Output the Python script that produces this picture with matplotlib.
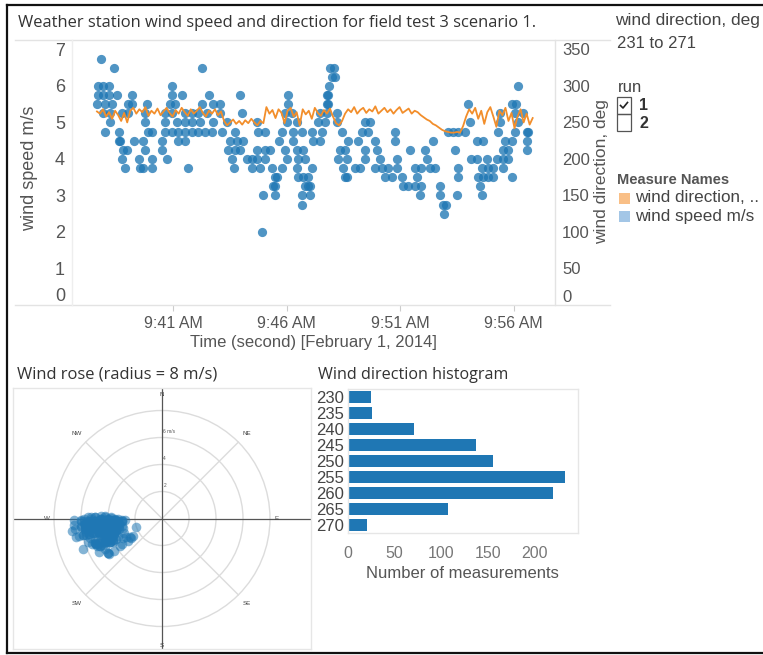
import numpy as np
import matplotlib
matplotlib.use("Agg")
import matplotlib.pyplot as plt
from matplotlib.lines import Line2D
from matplotlib.patches import Rectangle, Circle

plt.rcParams['font.family'] = ['Liberation Sans', 'DejaVu Sans']

# ---------------- data ----------------
T0 = np.datetime64('2014-02-01T09:37:00')

# wind speed readings (m/s, 0.25 steps) and the seconds after 09:37:00 at which they occur
speed_levels = [6.75, 6.5, 6.25, 6.0, 5.75, 5.5, 5.25, 5.0, 4.75, 4.5,
                4.25, 4.0, 3.75, 3.5, 3.25, 3.0, 2.75, 2.5, 2.0]
speed_times = [
    [49],
    [83, 315, 655, 666],
    [660, 668],
    [42, 55, 69, 236, 652, 1150],
    [42, 55, 69, 91, 130, 236, 264, 333, 416, 544, 645, 648],
    [38, 60, 77, 121, 130, 170, 231, 243, 315, 346, 363, 544, 645, 650, 1019, 1134, 1147],
    [55, 73, 104, 121, 165, 218, 236, 271, 289, 306, 330, 363, 421, 535, 553, 628, 645,
     672, 1103, 1143, 1165],
    [73, 165, 218, 249, 271, 289, 311, 346, 381, 460, 540, 566, 623, 641, 672, 747, 760,
     1024, 1103, 1152],
    [60, 95, 174, 183, 218, 236, 253, 271, 289, 306, 324, 341, 368, 403, 465, 482, 526,
     557, 579, 606, 632, 685, 738, 755, 826, 967, 979, 993, 1011, 1099, 1143, 1174, 1178],
    [95, 99, 135, 161, 211, 253, 271, 390, 407, 425, 518, 557, 610, 628, 703, 729, 773,
     826, 927, 1042, 1059, 1117, 1134, 1174],
    [108, 117, 165, 209, 385, 403, 416, 460, 482, 496, 535, 566, 584, 681, 694, 747, 778,
     866, 905, 984, 1112, 1126, 1174],
    [104, 148, 183, 223, 394, 434, 447, 460, 482, 540, 570, 588, 676, 698, 747, 786, 830,
     910, 1028, 1042, 1068, 1095, 1112, 1126],
    [113, 152, 161, 183, 278, 399, 447, 469, 500, 526, 566, 606, 689, 720, 733, 773, 791,
     808, 830, 879, 896, 918, 932, 993, 1055, 1073, 1086, 1112],
    [509, 514, 570, 584, 597, 694, 699, 800, 817, 844, 883, 993, 1046, 1059, 1073, 1086, 1134],
    [504, 509, 588, 596, 601, 848, 861, 879, 896, 945, 1051],
    [477, 509, 580, 601, 892, 945, 989, 1055],
    [580, 954, 962],
    [956],
    [474],
]

# wind direction (deg), sampled every 8 s starting 09:37:38
dir_start_sec = 38
dir_step_sec = 8
dir_deg = [
    265, 262, 268, 258, 264, 255, 266, 260, 252, 263, 250,
    266, 270, 262, 268, 264, 271, 259, 266, 262, 269, 260, 265, 270, 263, 258, 267,
    262, 270, 264, 259, 268, 262, 266, 271, 263, 258, 266, 262, 268, 260, 265,
    252, 246, 250, 254, 248, 252, 247, 253, 249, 255, 250, 246, 252, 249,
    271, 262, 267, 256, 268, 263, 249, 266, 270, 258, 264, 246, 268, 261, 266, 255,
    270, 263, 259, 267, 262, 269, 258,
    249, 246, 252, 262,
    268, 264, 271, 262, 267, 270, 263, 268, 265, 272, 262, 266, 270, 264, 268, 262,
    267, 271, 263, 266, 269, 262, 266,
    264, 260, 257, 254, 252, 248, 246, 243, 240, 238, 237,
    236, 236, 237, 236, 245, 258, 268,
    262, 270, 255, 266, 248, 264, 271, 258, 244, 266, 260, 270, 252, 263, 242, 258,
    268, 250, 262, 247, 256,
]

hist_bins = ['230', '235', '240', '245', '250', '255', '260', '265', '270']
hist_counts = [25, 26, 71, 137, 155, 233, 220, 107, 20]

time_ticks = ['09:41', '09:46', '09:51', '09:56']
time_tick_labels = ['9:41 AM', '9:46 AM', '9:51 AM', '9:56 AM']
speed_ticks = [0, 1, 2, 3, 4, 5, 6, 7]
dir_ticks = [0, 50, 100, 150, 200, 250, 300, 350]
hist_ticks = [0, 50, 100, 150, 200]
rose_rings = [2, 4, 6, 8]
compass = [('N', 0), ('NE', 45), ('E', 90), ('SE', 135),
           ('S', 180), ('SW', 225), ('W', 270), ('NW', 315)]
dir_filter_text = '231 to 271'

# ---------------- derived series ----------------
speed_sec = np.concatenate([np.asarray(t, float) for t in speed_times])
speed_ms = np.concatenate([[lv] * len(t) for lv, t in zip(speed_levels, speed_times)])
dir_sec = dir_start_sec + dir_step_sec * np.arange(len(dir_deg))
speed_dt = T0 + speed_sec.astype('timedelta64[s]')
dir_dt = T0 + dir_sec.astype('timedelta64[s]')
# direction at each speed reading (nearest direction sample)
near = np.abs(speed_sec[:, None] - dir_sec[None, :]).argmin(axis=1)
rose_dir = np.radians(np.asarray(dir_deg, float)[near])

# ---------------- figure ----------------
W, H = 763, 655
fig = plt.figure(figsize=(W / 100, H / 100), dpi=100)
fig.patch.set_facecolor('white')

BLUE = '#1f77b4'
ORANGE = '#f28e2b'
GRID = '#e3e3e3'
TXT = '#555555'


def ax_px(x0, y0, x1, y1, **kw):
    return fig.add_axes([x0 / W, 1 - y1 / H, (x1 - x0) / W, (y1 - y0) / H], **kw)


def fline(xs, ys, **kw):
    fig.add_artist(Line2D([x / W for x in xs], [1 - y / H for y in ys],
                          transform=fig.transFigure, **kw))


def ftext(x, y, s, **kw):
    return fig.text(x / W, 1 - y / H, s, **kw)


def fit_text(x, y, s, width_px, **kw):
    t = ftext(x, y, s, **kw)
    w = t.get_window_extent(fig.canvas.get_renderer()).width
    t.set_fontsize(t.get_fontsize() * width_px / w)
    return t


# outer frame
fline([7, 7], [5, 653], color='#111111', lw=1.6)
fline([7, 763], [5, 5], color='#111111', lw=1.6)
fline([7, 763], [653, 653], color='#111111', lw=1.6)

# ---------------- time series ----------------
fit_text(18, 23, 'Weather station wind speed and direction for field test 3 scenario 1.',
         519, family=['Open Sans', 'DejaVu Sans'], fontsize=12, color='#333333', va='center')
fline([15, 610], [40, 40], color=GRID, lw=1)
fline([15, 610], [305, 305], color=GRID, lw=1)
fline([72, 72], [40, 305], color='#eeeeee', lw=1)
fline([555, 555], [40, 305], color=GRID, lw=1)

ax = ax_px(72, 41, 555, 305)
ax.set_facecolor('none')
ax.scatter(speed_dt, speed_ms, s=44, color=BLUE, alpha=0.78, linewidths=0, zorder=2)
ax.set_ylim(0, 7.23)
ax.set_xlim(T0 - np.timedelta64(28, 's'), T0 + np.timedelta64(1249, 's'))
ax.set_yticks(speed_ticks)
ax.set_yticklabels([str(v) for v in speed_ticks])
ax.set_xticks([np.datetime64('2014-02-01T' + t) for t in time_ticks])
ax.set_xticklabels(time_tick_labels)
ax.tick_params(axis='y', length=0, pad=5, labelsize=13, labelcolor=TXT)
ax.tick_params(axis='x', length=4, color='#cccccc', pad=4, labelsize=11.5, labelcolor=TXT)
for sp in ax.spines.values():
    sp.set_visible(False)

ax2 = ax.twinx()
ax2.plot(dir_dt, dir_deg, color=ORANGE, lw=1.3, zorder=3)
ax2.set_ylim(0, 7.23 * 50)
ax2.set_yticks(dir_ticks)
ax2.set_yticklabels([str(v) for v in dir_ticks])
ax2.tick_params(axis='y', length=0, pad=5, labelsize=12, labelcolor=TXT)
for sp in ax2.spines.values():
    sp.set_visible(False)

ax.yaxis.get_major_ticks()[0].label1.set_va('bottom')
ax2.yaxis.get_major_ticks()[0].label2.set_va('bottom')

ftext(30, 168, 'wind speed m/s', rotation=90, ha='center', va='center', fontsize=13, color=TXT)
ftext(602, 172, 'wind direction, deg', rotation=90, ha='center', va='center', fontsize=12.5, color=TXT)
ftext(313, 343, 'Time (second) [February 1, 2014]', ha='center', va='center', fontsize=12, color=TXT)

# ---------------- legends / filters ----------------
ftext(615, 21, 'wind direction, deg', ha='left', va='center', fontsize=12.5, color='#444444')
ftext(617, 43, dir_filter_text, ha='left', va='center', fontsize=12, color='#444444')
ftext(618, 87, 'run', ha='left', va='center', fontsize=12, color='#444444')
for i, lab in enumerate(['1', '2']):
    y0 = 97 + 17 * i
    fig.add_artist(Rectangle((617 / W, 1 - (y0 + 17) / H), 14 / W, 17 / H,
                             transform=fig.transFigure, fill=False, ec='#555555', lw=0.9))
    ftext(639, y0 + 9, lab, ha='left', va='center', fontsize=11.5, fontweight='bold', color='#333333')
fline([620.5, 623, 627.5], [105.5, 108, 102.5], color='#222222', lw=1.2)

ftext(617, 180, 'Measure Names', ha='left', va='center', fontsize=10.5, fontweight='bold', color='#555555')
for i, (lab, col) in enumerate([('wind direction, ..', '#f9bf86'), ('wind speed m/s', '#a3c6e6')]):
    yc = 198 + 18 * i
    fig.add_artist(Rectangle((619 / W, 1 - (yc + 5.5) / H), 11 / W, 11 / H,
                             transform=fig.transFigure, color=col, lw=0))
    ftext(635, yc, lab, ha='left', va='center', fontsize=12.3, color='#444444')

# ---------------- wind rose ----------------
fit_text(17, 375, 'Wind rose (radius = 8 m/s)', 200, family=['Open Sans', 'DejaVu Sans'],
         fontsize=12, color='#333333', va='center')
axr = ax_px(13, 388, 311, 649)
pxm = 13.5
axr.set_xlim(-149 / pxm, 149 / pxm)
axr.set_ylim(-130.5 / pxm, 130.5 / pxm)
axr.set_xticks([])
axr.set_yticks([])
for sp in axr.spines.values():
    sp.set_color('#e6e6e6')
    sp.set_linewidth(1)
for r in rose_rings:
    axr.add_patch(Circle((0, 0), r, fill=False, ec='#dcdcdc', lw=1, zorder=1))
for ang in [45, 135, 225, 315]:
    a = np.radians(ang)
    axr.plot([0, 8 * np.sin(a)], [0, 8 * np.cos(a)], color='#dcdcdc', lw=1, zorder=1)
axr.axhline(0, color='#555555', lw=0.9, zorder=1)
axr.axvline(0, color='#555555', lw=0.9, zorder=1)
label_r = {'N': 9.2, 'S': 9.4, 'E': 8.45, 'W': 8.5}
for name, ang in compass:
    a = np.radians(ang)
    rr = label_r.get(name, 8.9)
    axr.text(rr * np.sin(a), rr * np.cos(a), name, fontsize=4.5, color='#444444',
             ha='center', va='center', zorder=2)
for r, lab in zip(rose_rings[:3], ['2', '4', '6 m/s']):
    axr.text(0.1, r + 0.45, lab, fontsize=3.5, color='#555555', ha='left', va='center', zorder=2)
axr.scatter(speed_ms * np.sin(rose_dir), speed_ms * np.cos(rose_dir), s=48,
            color=BLUE, alpha=0.55, linewidths=0, zorder=3)

# ---------------- histogram ----------------
fit_text(318, 375, 'Wind direction histogram', 189, family=['Open Sans', 'DejaVu Sans'],
         fontsize=12, color='#333333', va='center')
axh = ax_px(348, 389, 578, 533)
ypos = np.arange(len(hist_bins))
axh.barh(ypos, hist_counts, height=0.8, color=BLUE)
axh.set_ylim(len(hist_bins) - 0.5, -0.5)
axh.set_xlim(0, 246.5)
axh.set_yticks(ypos)
axh.set_yticklabels(hist_bins)
axh.set_xticks(hist_ticks)
axh.set_xticklabels([str(v) for v in hist_ticks])
axh.tick_params(axis='y', length=0, pad=3, labelsize=12, labelcolor='#444444')
axh.tick_params(axis='x', length=0, pad=9, labelsize=11.5, labelcolor='#777777')
for lab in axh.get_yticklabels():
    lab.set_fontstretch('condensed')
for sp in axh.spines.values():
    sp.set_color('#e6e6e6')
    sp.set_linewidth(1)
ftext(462, 573, 'Number of measurements', ha='center', va='center', fontsize=12, color=TXT)

fig.savefig('out.png', dpi=100, facecolor='white')
